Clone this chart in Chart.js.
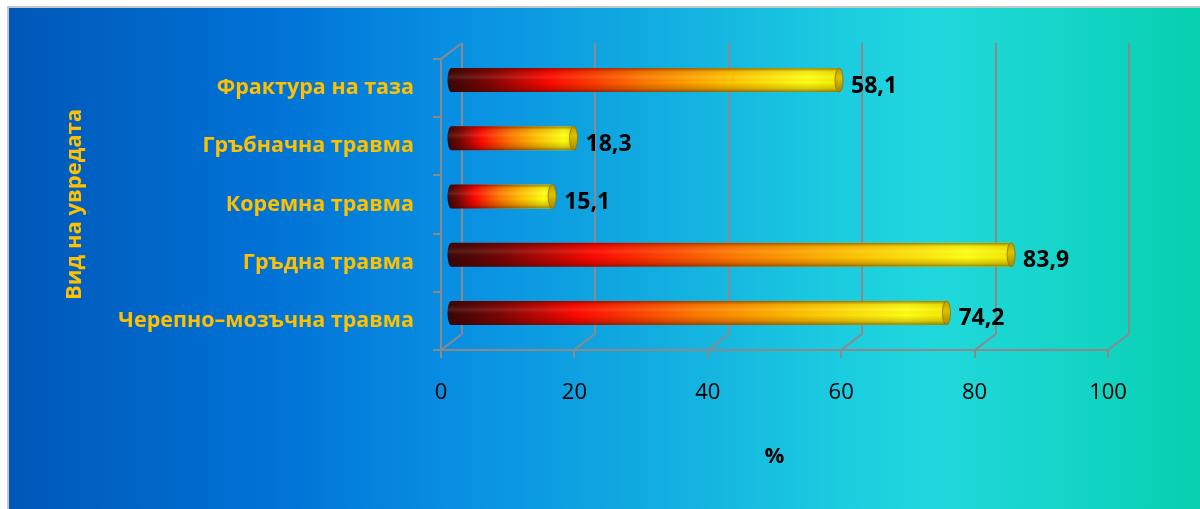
<!DOCTYPE html>
<html>
<head>
<meta charset="utf-8">
<script src="https://cdn.jsdelivr.net/npm/chart.js@4.4.0/dist/chart.umd.min.js"></script>
<style>
  html, body { margin: 0; padding: 0; background: #fff; }
  #wrap { position: relative; width: 1200px; height: 509px; overflow: hidden; }
  #panel {
    position: absolute; left: 7px; top: 6px; right: 0; bottom: 0;
    border-left: 2px solid #c6c6c6; border-top: 2px solid #c6c6c6;
    background: linear-gradient(to right, #0058b8 0%, #0072d6 22%, #088ee2 37%, #12aee0 55%, #1ccce0 70%, #20d8dc 78%, #14d4c6 90%, #06d0ae 100%);
  }
  canvas { position: absolute; left: 0; top: 0; }
</style>
</head>
<body>
<div id="wrap">
  <div id="panel"></div>
  <canvas id="injuryChart" width="1200" height="509"></canvas>
</div>
<script>
const injuryTypes = ['Фрактура на таза', 'Гръбначна травма', 'Коремна травма', 'Гръдна травма', 'Черепно–мозъчна травма'];
const percentValues = [58.1, 18.3, 15.1, 83.9, 74.2];
const axisTicks = [0, 20, 40, 60, 80, 100];

const FONT = "'Open Sans', 'DejaVu Sans', sans-serif";
const DEPTH_X = 21;
const DEPTH_Y = -16;
const GRID = '#8a8a8a';

// walls, floor and ticks of the 3D box
const frame3d = {
    id: 'frame3d',
    beforeDatasetsDraw(chart) {
        const { ctx, chartArea: a, scales: { x, y } } = chart;
        ctx.save();
        ctx.strokeStyle = GRID;
        ctx.lineWidth = 2;
        ctx.beginPath();
        axisTicks.forEach(v => {
            const px = Math.round(x.getPixelForValue(v));
            ctx.moveTo(px + DEPTH_X, a.top + DEPTH_Y);
            ctx.lineTo(px + DEPTH_X, a.bottom + DEPTH_Y);
            ctx.moveTo(px, a.bottom);
            ctx.lineTo(px + DEPTH_X, a.bottom + DEPTH_Y);
            ctx.moveTo(px, a.bottom);
            ctx.lineTo(px, a.bottom + 8);
        });
        ctx.moveTo(a.left, a.bottom);
        ctx.lineTo(a.left, a.top);
        ctx.lineTo(a.left + DEPTH_X, a.top + DEPTH_Y);
        ctx.moveTo(a.left - 8, a.bottom);
        ctx.lineTo(a.right, a.bottom);
        for (let i = 0; i <= injuryTypes.length; i++) {
            const py = Math.round(y.getPixelForValue(i - 0.5));
            ctx.moveTo(a.left - 8, py);
            ctx.lineTo(a.left, py);
        }
        ctx.stroke();
        ctx.restore();
    }
};

function drawCylinder(ctx, x0, x1, cy, h) {
    const ry = h / 2;
    const rx = 4;
    const top = cy - ry;
    const bottom = cy + ry;

    ctx.save();
    ctx.beginPath();
    ctx.moveTo(x1, top);
    ctx.lineTo(x0, top);
    ctx.ellipse(x0, cy, rx, ry, 0, -Math.PI / 2, Math.PI / 2, true);
    ctx.lineTo(x1, bottom);
    ctx.closePath();

    const body = ctx.createLinearGradient(x0 - rx, 0, x1, 0);
    body.addColorStop(0, '#3a0606');
    body.addColorStop(0.1, '#7a0505');
    body.addColorStop(0.26, '#ff0800');
    body.addColorStop(0.5, '#ff7800');
    body.addColorStop(0.7, '#ffbe00');
    body.addColorStop(0.92, '#ffff12');
    body.addColorStop(1, '#f6ea00');
    ctx.fillStyle = body;
    ctx.fill();

    ctx.clip();
    const shade = ctx.createLinearGradient(0, top, 0, bottom);
    shade.addColorStop(0, 'rgba(70,10,0,0.5)');
    shade.addColorStop(0.15, 'rgba(60,10,0,0.08)');
    shade.addColorStop(0.38, 'rgba(255,255,220,0.1)');
    shade.addColorStop(0.6, 'rgba(0,0,0,0)');
    shade.addColorStop(0.85, 'rgba(50,5,0,0.2)');
    shade.addColorStop(1, 'rgba(50,5,0,0.5)');
    ctx.fillStyle = shade;
    ctx.fillRect(x0 - rx, top, x1 - x0 + rx, h);
    ctx.restore();

    // end cap
    ctx.save();
    ctx.beginPath();
    ctx.ellipse(x1, cy, rx, ry, 0, 0, Math.PI * 2);
    const cap = ctx.createLinearGradient(0, top, 0, bottom);
    cap.addColorStop(0, '#b89a00');
    cap.addColorStop(0.4, '#dcc400');
    cap.addColorStop(1, '#a88800');
    ctx.fillStyle = cap;
    ctx.fill();
    ctx.lineWidth = 1;
    ctx.strokeStyle = 'rgba(140,110,0,0.8)';
    ctx.stroke();
    ctx.restore();
}

// cylinders drawn from the bar elements, pushed back to the middle of the box depth
const cylinderBars = {
    id: 'cylinderBars',
    afterDatasetsDraw(chart) {
        const { ctx } = chart;
        const meta = chart.getDatasetMeta(0);
        meta.data.forEach((bar, i) => {
            const shiftX = DEPTH_X / 2;
            const shiftY = DEPTH_Y / 2;
            const x0 = bar.base + shiftX;
            const x1 = bar.x + shiftX;
            const cy = bar.y + shiftY;
            drawCylinder(ctx, x0, x1, cy, bar.height);

            ctx.save();
            ctx.font = 'bold 23px ' + FONT;
            ctx.fillStyle = '#000';
            ctx.textAlign = 'left';
            ctx.textBaseline = 'middle';
            ctx.fillText(percentValues[i].toFixed(1).replace('.', ','), x1 + 12, bar.y - 2);
            ctx.restore();
        });
    }
};

new Chart(document.getElementById('injuryChart'), {
    type: 'bar',
    data: {
        labels: injuryTypes,
        datasets: [{
            data: percentValues,
            backgroundColor: 'rgba(0,0,0,0)',
            borderWidth: 0,
            barThickness: 24
        }]
    },
    options: {
        indexAxis: 'y',
        responsive: false,
        animation: false,
        devicePixelRatio: 1,
        layout: { padding: { top: 59, right: 92, bottom: 0, left: 0 } },
        plugins: {
            legend: { display: false },
            tooltip: { enabled: false }
        },
        scales: {
            x: {
                min: 0,
                max: 100,
                afterFit: (scale) => { scale.height = 159; },
                afterBuildTicks: (scale) => { scale.ticks = axisTicks.map(v => ({ value: v })); },
                grid: { display: false, drawTicks: false },
                border: { display: false },
                ticks: { color: '#000', padding: 30, font: { family: FONT, size: 22 } },
                title: {
                    display: true,
                    text: '%',
                    color: '#000',
                    font: { family: FONT, size: 22, weight: 'bold' },
                    padding: { top: 0, bottom: 39 }
                }
            },
            y: {
                afterFit: (scale) => { scale.width = 441; },
                grid: { display: false, drawTicks: false },
                border: { display: false },
                ticks: { color: '#ffc000', padding: 27, font: { family: FONT, size: 21.5, weight: 'bold' } },
                title: {
                    display: true,
                    text: 'Вид на увредата',
                    color: '#ffc000',
                    font: { family: FONT, size: 22, weight: 'bold' },
                    padding: { top: 62, bottom: 0 }
                }
            }
        }
    },
    plugins: [frame3d, cylinderBars]
});
</script>
</body>
</html>
